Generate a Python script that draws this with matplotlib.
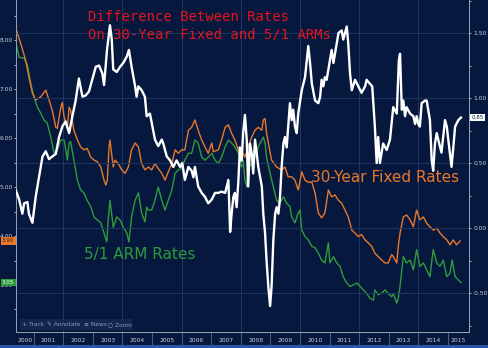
import matplotlib
matplotlib.use("Agg")
import matplotlib.pyplot as plt
from matplotlib.patches import Rectangle
from matplotlib.ticker import FixedLocator, MultipleLocator, FormatStrFormatter, NullFormatter

# 30-year fixed rate (left axis, %), decimal years
fixed_t = [2000.40, 2000.56, 2000.73, 2000.84, 2000.96, 2001.07, 2001.16, 2001.24, 2001.41, 2001.52,
           2001.63, 2001.75, 2001.80, 2001.92, 2001.97, 2002.03, 2002.14, 2002.20, 2002.25, 2002.36,
           2002.48, 2002.59, 2002.70, 2002.81, 2002.93, 2003.04, 2003.15, 2003.27, 2003.38, 2003.44,
           2003.49, 2003.55, 2003.58, 2003.69, 2003.75, 2003.86, 2003.98, 2004.09, 2004.20, 2004.31,
           2004.43, 2004.54, 2004.65, 2004.76, 2004.88, 2004.99, 2005.10, 2005.21, 2005.33, 2005.44,
           2005.55, 2005.67, 2005.78, 2005.89, 2006.00, 2006.11, 2006.23, 2006.34, 2006.45, 2006.56,
           2006.68, 2006.79, 2006.90, 2007.02, 2007.07, 2007.24, 2007.35, 2007.47, 2007.58, 2007.69,
           2007.80, 2007.92, 2008.03, 2008.08, 2008.14, 2008.25, 2008.37, 2008.48, 2008.59, 2008.71,
           2008.76, 2008.82, 2008.87, 2009.04, 2009.21, 2009.38, 2009.49, 2009.60, 2009.72, 2009.83,
           2009.94, 2010.06, 2010.17, 2010.28, 2010.40, 2010.51, 2010.62, 2010.73, 2010.84, 2010.96,
           2011.07, 2011.18, 2011.30, 2011.41, 2011.52, 2011.63, 2011.75, 2011.86, 2011.97, 2012.08,
           2012.20, 2012.31, 2012.42, 2012.53, 2012.64, 2012.76, 2012.87, 2012.98, 2013.10, 2013.15,
           2013.27, 2013.32, 2013.38, 2013.49, 2013.60, 2013.72, 2013.83, 2013.94, 2014.05, 2014.17,
           2014.28, 2014.39, 2014.50, 2014.62, 2014.73, 2014.84, 2014.96, 2015.07, 2015.18, 2015.29,
           2015.41]
fixed_rate = [8.24, 7.94, 7.59, 7.25, 6.92, 6.78, 6.81, 6.84, 6.98, 6.78,
              6.57, 6.22, 6.20, 6.63, 6.73, 6.43, 6.22, 6.63, 6.57, 6.16,
              5.96, 5.82, 5.76, 5.79, 5.61, 5.55, 5.52, 5.41, 5.14, 5.04,
              5.14, 5.82, 5.96, 5.41, 5.55, 5.48, 5.35, 5.28, 5.41, 5.76,
              5.90, 5.82, 5.48, 5.35, 5.41, 5.35, 5.48, 5.38, 5.28, 5.14,
              5.31, 5.48, 5.76, 5.69, 5.76, 5.76, 6.16, 6.22, 6.37, 6.16,
              5.96, 5.82, 5.69, 5.90, 5.72, 5.76, 5.96, 6.22, 6.27, 6.10,
              5.96, 5.76, 5.61, 5.69, 5.61, 5.82, 6.02, 6.16, 6.22, 6.16,
              6.37, 6.40, 6.10, 5.55, 5.41, 5.35, 5.41, 5.21, 5.21, 5.14,
              4.94, 5.31, 5.14, 5.10, 5.10, 4.88, 4.47, 4.37, 4.47, 4.94,
              4.80, 4.84, 4.73, 4.67, 4.53, 4.39, 4.12, 4.06, 3.99, 4.03,
              3.92, 3.86, 3.79, 3.65, 3.58, 3.51, 3.45, 3.45, 3.62, 3.58,
              3.45, 3.79, 4.06, 4.39, 4.43, 4.33, 4.19, 4.53, 4.33, 4.39,
              4.26, 4.19, 4.12, 4.16, 4.06, 3.99, 3.92, 3.82, 3.92, 3.82,
              3.90]

# 5/1 ARM rate (left axis, %)
arm_t = [2000.40, 2000.51, 2000.68, 2000.79, 2000.90, 2001.01, 2001.13, 2001.24, 2001.35, 2001.46,
         2001.58, 2001.69, 2001.80, 2001.92, 2002.03, 2002.08, 2002.14, 2002.20, 2002.25, 2002.36,
         2002.48, 2002.59, 2002.70, 2002.81, 2002.93, 2003.04, 2003.15, 2003.27, 2003.38, 2003.47,
         2003.52, 2003.58, 2003.69, 2003.81, 2003.92, 2004.03, 2004.15, 2004.22, 2004.31, 2004.43,
         2004.54, 2004.65, 2004.76, 2004.82, 2004.88, 2004.99, 2005.10, 2005.21, 2005.33, 2005.44,
         2005.55, 2005.67, 2005.78, 2005.89, 2006.00, 2006.11, 2006.23, 2006.34, 2006.45, 2006.56,
         2006.68, 2006.79, 2006.90, 2007.02, 2007.13, 2007.24, 2007.35, 2007.47, 2007.58, 2007.69,
         2007.80, 2007.92, 2008.03, 2008.08, 2008.14, 2008.20, 2008.25, 2008.37, 2008.48, 2008.59,
         2008.71, 2008.76, 2008.82, 2008.87, 2008.99, 2009.10, 2009.21, 2009.32, 2009.44, 2009.55,
         2009.66, 2009.72, 2009.83, 2009.94, 2010.00, 2010.06, 2010.17, 2010.28, 2010.40, 2010.51,
         2010.62, 2010.73, 2010.84, 2010.96, 2011.01, 2011.13, 2011.24, 2011.35, 2011.46, 2011.58,
         2011.69, 2011.80, 2011.92, 2012.03, 2012.14, 2012.25, 2012.36, 2012.48, 2012.53, 2012.64,
         2012.76, 2012.87, 2012.98, 2013.10, 2013.15, 2013.27, 2013.32, 2013.38, 2013.49, 2013.60,
         2013.72, 2013.83, 2013.94, 2014.05, 2014.17, 2014.28, 2014.39, 2014.50, 2014.62, 2014.73,
         2014.84, 2014.96, 2015.07, 2015.14, 2015.24, 2015.35, 2015.44]
arm_rate = [7.96, 7.65, 7.63, 7.49, 7.12, 6.84, 6.63, 6.51, 6.37, 6.31,
            6.02, 5.69, 5.76, 5.96, 5.96, 5.79, 5.55, 5.90, 5.93, 5.55,
            5.14, 4.94, 4.88, 4.73, 4.60, 4.39, 4.33, 4.27, 4.06, 3.88,
            4.33, 4.73, 4.18, 4.39, 4.33, 4.18, 4.06, 3.88, 4.39, 4.73,
            4.88, 4.47, 4.29, 4.59, 4.53, 4.53, 4.73, 5.00, 4.73, 4.53,
            4.73, 4.94, 5.28, 5.35, 5.38, 5.55, 5.69, 5.69, 5.96, 5.90,
            5.61, 5.55, 5.61, 5.69, 5.55, 5.48, 5.61, 5.82, 5.96, 5.90,
            5.82, 5.69, 5.41, 5.55, 5.14, 5.00, 5.41, 5.48, 5.61, 5.82,
            5.96, 6.02, 5.90, 5.61, 5.28, 5.00, 4.73, 4.67, 4.80, 4.67,
            4.60, 4.39, 4.27, 4.47, 4.53, 4.12, 3.99, 3.92, 3.79, 3.76,
            3.65, 3.51, 3.45, 3.86, 3.45, 3.58, 3.45, 3.38, 3.17, 3.04,
            2.97, 3.00, 3.04, 2.97, 2.90, 2.83, 2.73, 2.69, 2.90, 2.80,
            2.83, 2.90, 2.83, 2.76, 2.83, 2.63, 2.73, 2.97, 3.58, 3.45,
            3.51, 3.31, 3.72, 3.38, 3.45, 3.31, 3.17, 3.72, 3.45, 3.38,
            3.51, 3.17, 3.24, 3.51, 3.17, 3.10, 3.05]

# difference 30-yr minus 5/1 ARM (right axis, percentage points)
diff_t = [2000.40, 2000.51, 2000.62, 2000.68, 2000.79, 2000.84, 2000.96, 2001.07, 2001.18, 2001.30,
          2001.41, 2001.52, 2001.63, 2001.75, 2001.86, 2001.97, 2002.08, 2002.20, 2002.31, 2002.42,
          2002.53, 2002.65, 2002.76, 2002.87, 2002.98, 2003.10, 2003.21, 2003.32, 2003.38, 2003.48,
          2003.58, 2003.64, 2003.69, 2003.81, 2003.92, 2004.03, 2004.15, 2004.22, 2004.31, 2004.43,
          2004.48, 2004.54, 2004.65, 2004.76, 2004.82, 2004.93, 2004.99, 2005.10, 2005.21, 2005.33,
          2005.38, 2005.50, 2005.61, 2005.72, 2005.83, 2005.95, 2006.02, 2006.11, 2006.23, 2006.34,
          2006.40, 2006.45, 2006.56, 2006.68, 2006.79, 2006.90, 2007.02, 2007.13, 2007.24, 2007.35,
          2007.47, 2007.58, 2007.64, 2007.69, 2007.75, 2007.80, 2007.86, 2007.92, 2007.97, 2008.03,
          2008.08, 2008.14, 2008.20, 2008.25, 2008.31, 2008.37, 2008.42, 2008.48, 2008.54, 2008.59,
          2008.71, 2008.76, 2008.82, 2008.87, 2008.93, 2008.99, 2009.04, 2009.10, 2009.16, 2009.21,
          2009.27, 2009.32, 2009.38, 2009.44, 2009.49, 2009.55, 2009.60, 2009.66, 2009.72, 2009.77,
          2009.83, 2009.89, 2009.94, 2010.06, 2010.17, 2010.28, 2010.34, 2010.40, 2010.51, 2010.62,
          2010.68, 2010.73, 2010.79, 2010.84, 2010.90, 2010.96, 2011.07, 2011.13, 2011.24, 2011.30,
          2011.41, 2011.46, 2011.52, 2011.58, 2011.63, 2011.69, 2011.75, 2011.86, 2011.97, 2012.08,
          2012.20, 2012.25, 2012.36, 2012.44, 2012.53, 2012.59, 2012.64, 2012.70, 2012.81, 2012.93,
          2013.04, 2013.15, 2013.27, 2013.34, 2013.38, 2013.44, 2013.49, 2013.55, 2013.60, 2013.72,
          2013.83, 2013.89, 2013.94, 2014.00, 2014.05, 2014.11, 2014.22, 2014.28, 2014.33, 2014.39,
          2014.45, 2014.50, 2014.56, 2014.62, 2014.67, 2014.78, 2014.90, 2014.96, 2015.01, 2015.12,
          2015.18, 2015.24, 2015.35, 2015.44]
diff_val = [0.29, 0.22, 0.11, 0.19, 0.20, 0.11, 0.04, 0.24, 0.39, 0.55,
            0.59, 0.53, 0.55, 0.57, 0.70, 0.78, 0.82, 0.73, 0.86, 0.98,
            1.15, 1.01, 1.02, 1.05, 1.14, 1.24, 1.25, 1.19, 1.10, 1.37,
            1.56, 1.45, 1.22, 1.20, 1.24, 1.27, 1.32, 1.37, 1.24, 1.09,
            1.01, 1.09, 1.06, 1.01, 0.86, 0.88, 0.81, 0.68, 0.63, 0.68,
            0.65, 0.55, 0.52, 0.47, 0.52, 0.47, 0.50, 0.37, 0.47, 0.44,
            0.39, 0.47, 0.32, 0.27, 0.24, 0.19, 0.22, 0.27, 0.27, 0.28,
            0.27, 0.37, -0.03, 0.11, 0.24, 0.27, 0.16, 0.37, 0.62, 0.52,
            0.73, 0.87, 0.68, 0.32, 0.65, 0.57, 0.42, 0.68, 0.57, 0.47,
            0.32, 0.11, -0.04, -0.25, -0.45, -0.60, -0.45, -0.09, 0.11, 0.16,
            0.11, 0.22, 0.47, 0.65, 0.70, 0.62, 0.78, 0.96, 0.83, 0.91,
            0.78, 0.73, 0.88, 1.06, 1.16, 1.40, 1.27, 1.11, 0.98, 0.96,
            1.01, 1.14, 1.09, 1.16, 1.14, 1.22, 1.37, 1.27, 1.42, 1.50,
            1.52, 1.45, 1.50, 1.55, 1.42, 1.19, 1.06, 1.14, 1.09, 1.04,
            1.09, 1.14, 1.11, 1.09, 0.78, 0.50, 0.70, 0.50, 0.65, 0.60,
            0.68, 0.93, 0.88, 1.29, 1.34, 0.91, 0.98, 0.86, 0.93, 0.88,
            0.86, 0.80, 0.86, 0.80, 0.78, 0.96, 0.98, 0.98, 0.91, 0.83,
            0.52, 0.44, 0.65, 0.73, 0.68, 0.58, 0.83, 0.78, 0.68, 0.47,
            0.62, 0.78, 0.83, 0.85]

years = list(range(2000, 2016))
toolbar_items = ["+ Track", "✎ Annotate", "≡ News", "○ Zoom"]

bg = "#06183d"
gridc = "#1f3563"
tickc = "#c9d0de"
orange = "#e8782c"
green = "#2e9b3c"
red = "#e3141f"

W, H = 488, 348
fig = plt.figure(figsize=(W / 100, H / 100), dpi=100, facecolor=bg)
ax = fig.add_axes([16 / W, 16 / H, 453 / W, 332 / H])
ax.set_facecolor(bg)
ax2 = ax.twinx()

ax.plot(arm_t, arm_rate, color=green, lw=1.0, zorder=3)
ax.plot(fixed_t, fixed_rate, color=orange, lw=1.0, zorder=3)
ax2.plot(diff_t, diff_val, color="white", lw=1.7, zorder=3)

x0, x1 = 2000.405, 2015.71
ax.set_xlim(x0, x1)
ax.set_ylim(2.04, 8.82)
ax2.set_ylim(-0.80, 1.754)

# grid
for yr in range(2002, 2015, 2):
    ax.axvline(yr, color=gridc, lw=0.7, zorder=0)
ax2.yaxis.set_major_locator(MultipleLocator(0.5))
ax2.yaxis.set_minor_locator(MultipleLocator(0.25))
ax2.grid(axis="y", color=gridc, lw=0.7, zorder=0)
ax2.set_axisbelow(True)

# x axis: separators at year starts, labels centred in each year
ax.xaxis.set_major_locator(FixedLocator(years[1:]))
ax.xaxis.set_major_formatter(NullFormatter())
centers = [(max(y, x0) + min(y + 1, x1)) / 2 for y in years]
ax.xaxis.set_minor_locator(FixedLocator(centers))
ax.set_xticklabels([str(y) for y in years], minor=True)
ax.tick_params(axis="x", which="major", length=10, width=0.6, color="#5d6a86", direction="out")
ax.tick_params(axis="x", which="minor", length=0, pad=4, labelsize=4.3, labelcolor=tickc)

# left axis
ax.yaxis.set_major_locator(MultipleLocator(1))
ax.yaxis.set_minor_locator(MultipleLocator(0.5))
ax.yaxis.set_major_formatter(FormatStrFormatter("%.2f"))
ax.tick_params(axis="y", which="both", length=1.5, width=0.6, color=tickc, pad=1,
               labelsize=4.3, labelcolor=tickc)

# right axis
ax2.yaxis.set_major_formatter(FormatStrFormatter("%.2f"))
ax2.tick_params(axis="y", which="both", length=1.5, width=0.6, color=tickc, pad=1.5,
                labelsize=4.3, labelcolor=tickc)

for a in (ax, ax2):
    a.spines["top"].set_visible(False)
    for s in ("left", "right", "bottom"):
        a.spines[s].set_color("#9aa3b6")
        a.spines[s].set_linewidth(0.6)

# last-value boxes
ax.text(-0.004, fixed_rate[-1], f"{fixed_rate[-1]:.2f}", transform=ax.get_yaxis_transform(),
        ha="right", va="center", fontsize=4, color="#3a1a05", zorder=10, clip_on=False,
        bbox=dict(boxstyle="square,pad=0.25", fc=orange, ec="none"))
ax.text(-0.004, arm_rate[-1], f"{arm_rate[-1]:.2f}", transform=ax.get_yaxis_transform(),
        ha="right", va="center", fontsize=4, color="white", zorder=10, clip_on=False,
        bbox=dict(boxstyle="square,pad=0.25", fc=green, ec="none"))
ax2.text(1.006, diff_val[-1], f"{diff_val[-1]:.2f}", transform=ax2.get_yaxis_transform(),
         ha="left", va="center", fontsize=4, color="#0a1a3a", zorder=10, clip_on=False,
         bbox=dict(boxstyle="square,pad=0.25", fc="white", ec="none"))

# series labels
ax.text(0.652, 0.464, "30-Year Fixed Rates", transform=ax.transAxes, color=orange,
        fontsize=11, va="center", ha="left")
ax.text(0.150, 0.232, "5/1 ARM Rates", transform=ax.transAxes, color=green,
        fontsize=11, va="center", ha="left")

# title
fig.text(88 / W, 1 - 17 / H, "Difference Between Rates", color=red, fontsize=10,
         family="DejaVu Sans Mono", va="center", ha="left")
fig.text(88 / W, 1 - 35 / H, "On 30-Year Fixed and 5/1 ARMs", color=red, fontsize=10,
         family="DejaVu Sans Mono", va="center", ha="left")

# toolbar strip
ax.add_patch(Rectangle((4 / 453, 2 / 332), 112 / 453, 11 / 332, transform=ax.transAxes,
                       fc="#12264e", ec="none", zorder=4))
for xp, label in zip([22, 47, 84, 108], toolbar_items):
    ax.text((xp - 16) / 453, 7.5 / 332, label, transform=ax.transAxes, fontsize=4.2,
            color="#8c9abb", va="center", ha="left", zorder=5)

# blue strip at the very bottom
fig.patches.append(Rectangle((0, 0), 1, 3 / H, transform=fig.transFigure,
                             fc="#2857a8", ec="none"))

fig.savefig("out.png", dpi=100, facecolor=bg)
